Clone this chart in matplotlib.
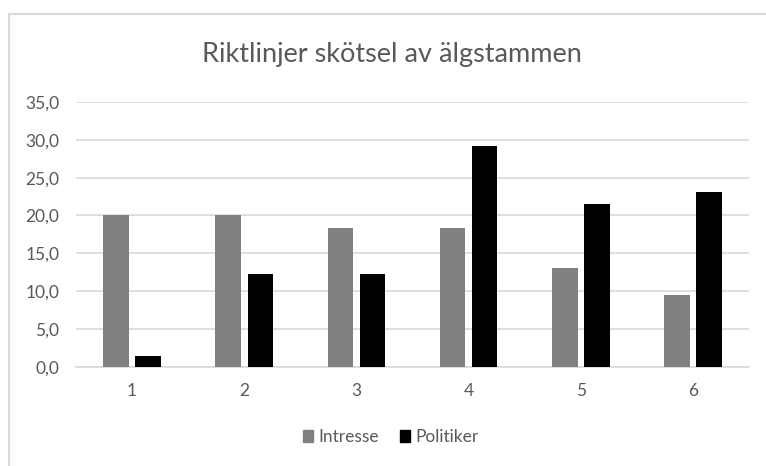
import matplotlib.pyplot as plt
import numpy as np
from matplotlib.lines import Line2D
from matplotlib.patches import Patch

categories = ['1', '2', '3', '4', '5', '6']
intresse = [20.1, 20.1, 18.3, 18.3, 13.0, 9.5]
politiker = [1.4, 12.2, 12.2, 29.2, 21.5, 23.1]

plt.rcParams['font.family'] = ['Lato', 'DejaVu Sans']
text_col = '#595959'
grid_col = '#d9d9d9'

fig = plt.figure(figsize=(7.66, 4.66), dpi=100)
ax = fig.add_axes([0.0992, 0.2131, 0.8788, 0.5678])

x = np.arange(len(categories))
w = 0.228
off = 0.143
ax.bar(x - off, intresse, w, color='#808080', label='Intresse', zorder=3)
ax.bar(x + off, politiker, w, color='#000000', label='Politiker', zorder=3)

ax.set_xlim(-0.5, len(categories) - 0.5)
ax.set_ylim(0, 35)
ax.set_yticks(np.arange(0, 36, 5))
ax.set_yticklabels([f'{v:.1f}'.replace('.', ',') for v in np.arange(0, 36, 5)])
ax.set_xticks(x)
ax.set_xticklabels(categories)
ax.yaxis.grid(True, color=grid_col, linewidth=1.2, zorder=0)
for s in ['top', 'right', 'left']:
    ax.spines[s].set_visible(False)
ax.spines['bottom'].set_color(grid_col)
ax.spines['bottom'].set_linewidth(1.2)
ax.tick_params(length=0, labelsize=12.5, colors=text_col)
ax.tick_params(axis='y', pad=12)
ax.tick_params(axis='x', pad=12)

fig.text(0.512, 0.884, 'Riktlinjer skötsel av älgstammen', ha='center', va='center',
         fontsize=19.5, color=text_col)

handles = [Patch(color='#808080'), Patch(color='#000000')]
fig.legend(handles, ['Intresse', 'Politiker'], loc='center', bbox_to_anchor=(0.51, 0.062),
           ncol=2, frameon=False, fontsize=12.5, labelcolor=text_col,
           handlelength=0.6, handleheight=0.6, handletextpad=0.3, columnspacing=1.2)

# chart area border (left and top only visible)
fig.add_artist(Line2D([9 / 766, 9 / 766], [0, 1 - 14 / 466], color=grid_col, linewidth=1.5,
                      transform=fig.transFigure))
fig.add_artist(Line2D([9 / 766, 1], [1 - 14 / 466, 1 - 14 / 466], color=grid_col, linewidth=1.5,
                      transform=fig.transFigure))

fig.savefig('out.png', dpi=100, facecolor='white')
